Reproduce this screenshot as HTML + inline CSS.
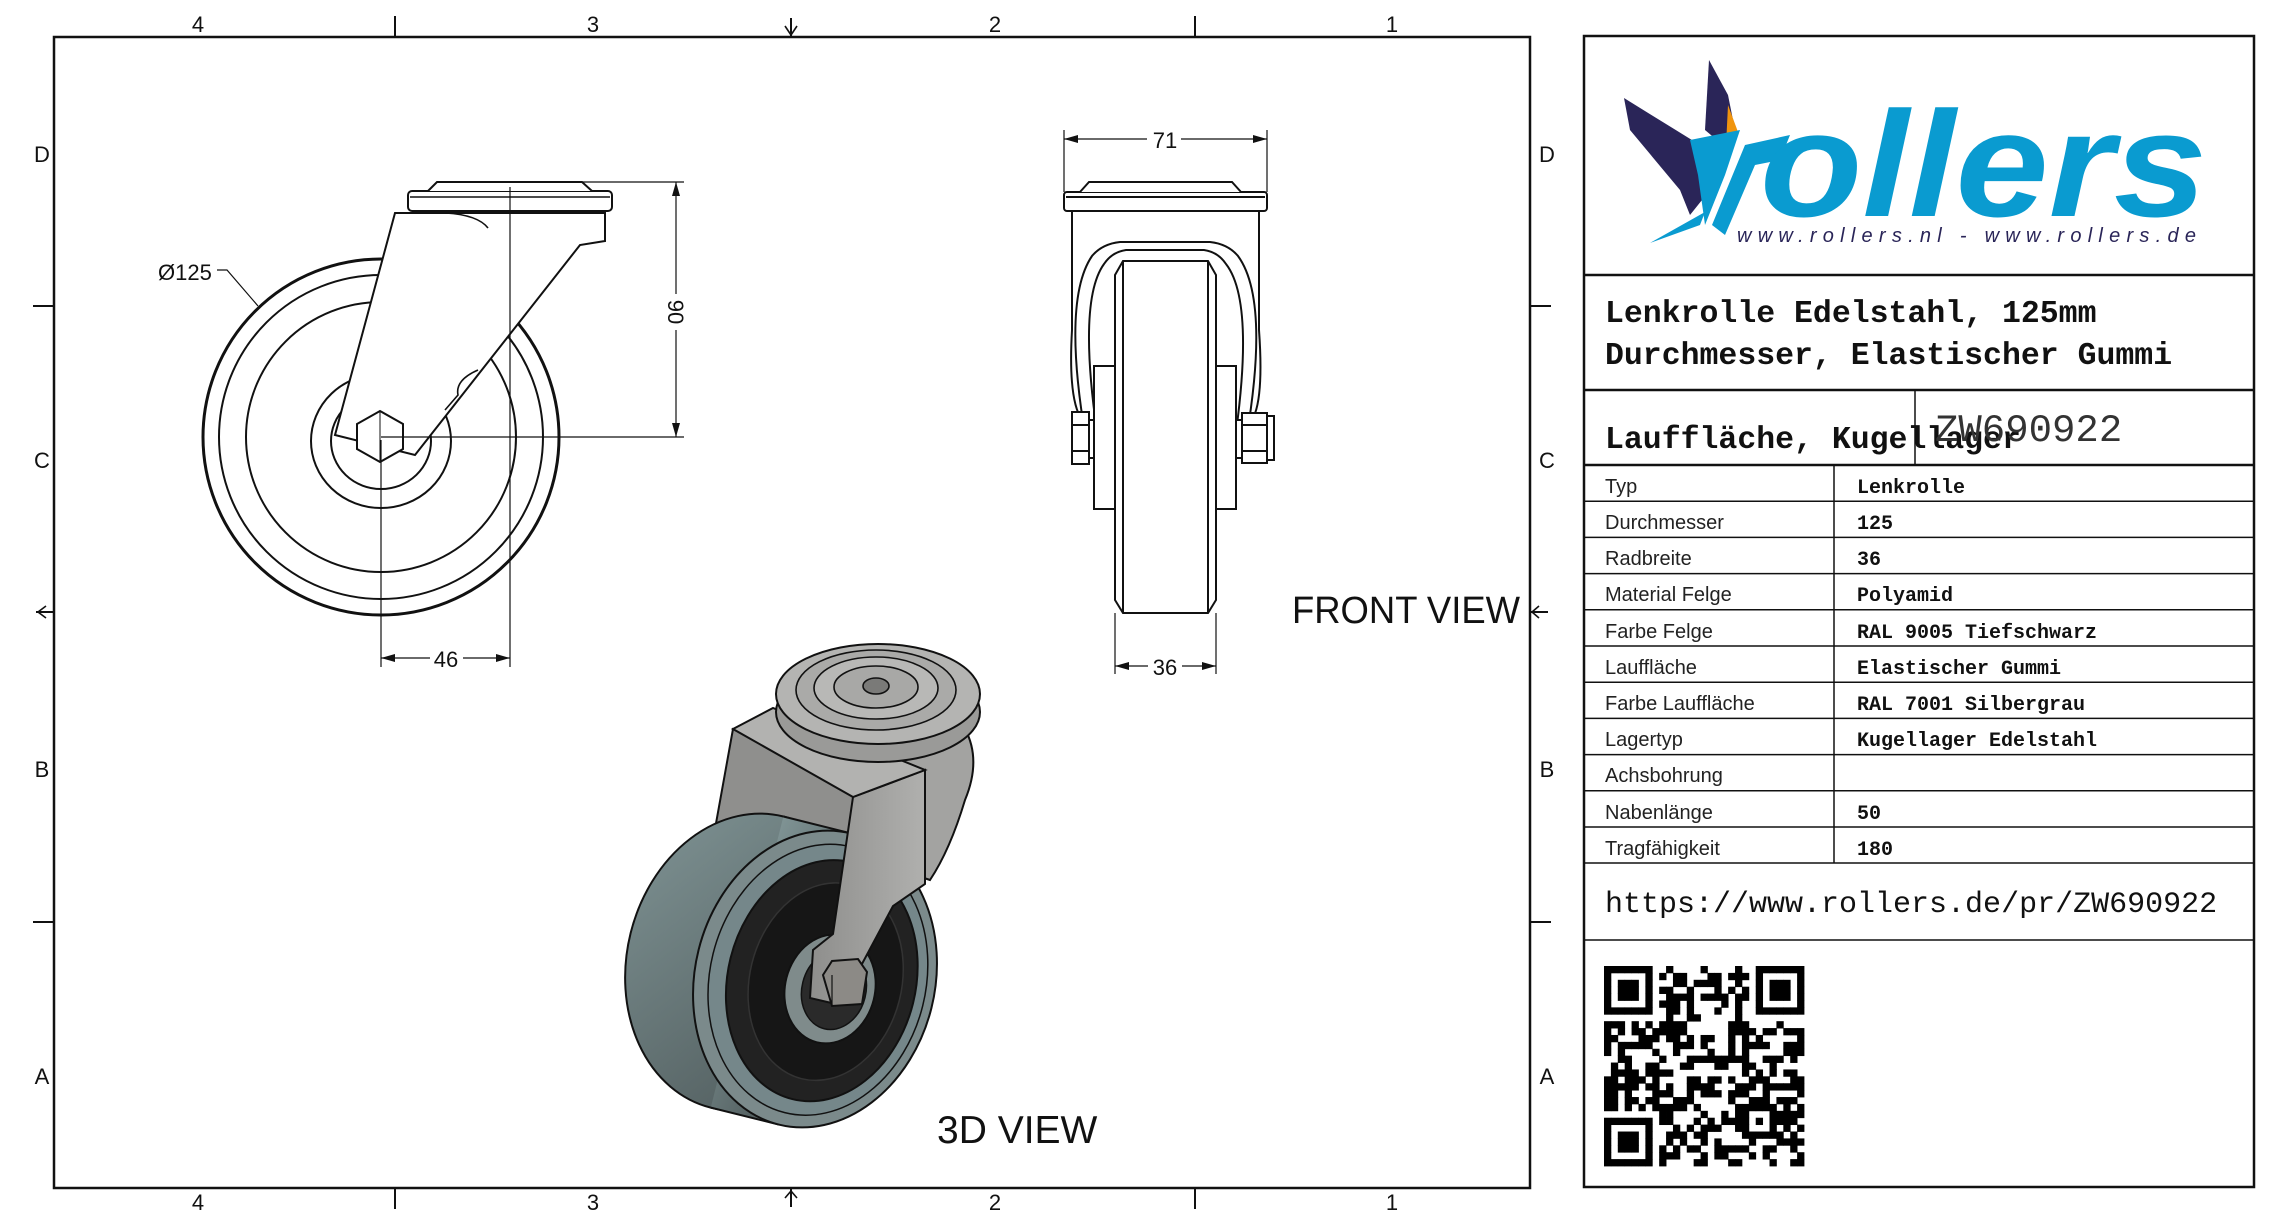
<!DOCTYPE html>
<html><head><meta charset="utf-8"><style>
html,body{margin:0;padding:0;background:#fff;}
svg{display:block;}
.mono{font-family:"Liberation Mono",monospace;}
.sans{font-family:"Liberation Sans",sans-serif;}
</style></head><body>
<svg id="s" width="2284" height="1224" viewBox="0 0 2284 1224" xmlns="http://www.w3.org/2000/svg">
<rect width="2284" height="1224" fill="#fff"/>
<rect x="54" y="37" width="1476" height="1151" fill="none" stroke="#111" stroke-width="2.5"/>
<g stroke="#111" stroke-width="2">
<line x1="395" y1="16" x2="395" y2="37"/><line x1="1195" y1="16" x2="1195" y2="37"/>
<line x1="395" y1="1188" x2="395" y2="1209"/><line x1="1195" y1="1188" x2="1195" y2="1209"/>
<line x1="33" y1="306" x2="54" y2="306"/><line x1="33" y1="922" x2="54" y2="922"/>
<line x1="1530" y1="306" x2="1551" y2="306"/><line x1="1530" y1="922" x2="1551" y2="922"/>
<line x1="791" y1="18" x2="791" y2="37"/><line x1="791" y1="1188" x2="791" y2="1207"/>
<line x1="36" y1="612" x2="54" y2="612"/><line x1="1530" y1="612" x2="1548" y2="612"/>
</g>
<g fill="none" stroke="#111" stroke-width="1.6">
<path d="M785 26 L791 35 L797 26"/><path d="M785 1198 L791 1191 L797 1198"/>
<path d="M46 606 L38 612 L46 618"/><path d="M1539 606 L1532 612 L1539 618"/>
</g>
<g class="sans" font-size="22" fill="#111" text-anchor="middle">
<text x="198" y="32">4</text><text x="593" y="32">3</text><text x="995" y="32">2</text><text x="1392" y="32">1</text>
<text x="198" y="1210">4</text><text x="593" y="1210">3</text><text x="995" y="1210">2</text><text x="1392" y="1210">1</text>
<text x="42" y="162">D</text><text x="42" y="468">C</text><text x="42" y="777">B</text><text x="42" y="1084">A</text>
<text x="1547" y="162">D</text><text x="1547" y="468">C</text><text x="1547" y="777">B</text><text x="1547" y="1084">A</text>
</g>

<!-- SIDE VIEW -->
<g fill="none" stroke="#111" stroke-width="2">
<circle cx="381" cy="437" r="178" stroke-width="3"/>
<circle cx="381" cy="437" r="162"/>
<circle cx="381" cy="437" r="135"/>
<ellipse cx="381" cy="441" rx="70" ry="67"/>
<ellipse cx="381" cy="441" rx="50" ry="48"/>
</g>
<path d="M395 213 L605 213 L605 241 L580 245 L415 455 L335 435 Z" fill="#fff" stroke="#111" stroke-width="2"/>
<path d="M446 213 Q478 215 488 228" fill="none" stroke="#111" stroke-width="1.6"/>
<path d="M478 370 Q455 380 458 395 L445 410" fill="none" stroke="#111" stroke-width="1.6"/>
<polygon points="357,424 380,411 403,424 403,449 380,462 357,449" fill="#fff" stroke="#111" stroke-width="2"/>
<line x1="380" y1="411" x2="380" y2="462" stroke="#111" stroke-width="1"/>
<rect x="408" y="191" width="204" height="20" rx="4" fill="#fff" stroke="#111" stroke-width="2"/>
<line x1="410" y1="197" x2="610" y2="197" stroke="#111" stroke-width="1.4"/>
<path d="M428 191 L437 182 L582 182 L592 191" fill="#fff" stroke="#111" stroke-width="2"/>
<g stroke="#111" stroke-width="1.2" fill="none">
<line x1="510" y1="187" x2="510" y2="667"/>
<line x1="381" y1="440" x2="381" y2="667"/>
<line x1="381" y1="437" x2="684" y2="437"/>
<line x1="582" y1="182" x2="684" y2="182"/>
<line x1="676" y1="182" x2="676" y2="437"/>
<line x1="381" y1="658" x2="430" y2="658"/><line x1="463" y1="658" x2="510" y2="658"/>
<path d="M217 270 L227 270 L258 306"/>
</g>
<g fill="#111">
<path d="M676 182 L672 196 L680 196 Z"/><path d="M676 437 L672 423 L680 423 Z"/>
<path d="M381 658 L395 654 L395 662 Z"/><path d="M510 658 L496 654 L496 662 Z"/>
</g>
<rect x="664" y="294" width="24" height="36" fill="#fff"/>
<text class="sans" font-size="22" fill="#111" transform="translate(668,312) rotate(90)" text-anchor="middle">90</text>
<text class="sans" font-size="22" fill="#111" x="446" y="667" text-anchor="middle">46</text>
<text class="sans" font-size="22" fill="#111" x="158" y="280">Ø125</text>

<!-- FRONT VIEW -->
<g fill="#fff" stroke="#111" stroke-width="2">
<path d="M1072 211 L1072 330 Q1068 400 1082 420 L1094 440 L1094 366 L1236 366 L1236 440 L1252 420 Q1264 400 1259 330 L1259 211"/>
<path d="M1086 440 Q1062 300 1092 256 Q1102 244 1120 242 L1210 242 Q1228 244 1238 256 Q1270 300 1246 440"/>
<path d="M1097 432 Q1078 300 1104 264 Q1112 252 1126 250 L1204 250 Q1218 252 1226 264 Q1254 300 1236 432"/>
<rect x="1094" y="366" width="142" height="143"/>
<path d="M1115 275 L1123 261 L1208 261 L1216 275 L1216 600 L1208 613 L1123 613 L1115 600 Z"/>
<line x1="1123" y1="261" x2="1123" y2="613"/><line x1="1208" y1="261" x2="1208" y2="613"/>
<rect x="1072" y="412" width="17" height="52"/>
<line x1="1072" y1="425" x2="1089" y2="425"/><line x1="1072" y1="451" x2="1089" y2="451"/>
<rect x="1089" y="420" width="5" height="38"/>
<rect x="1236" y="420" width="6" height="38"/>
<rect x="1242" y="413" width="25" height="50"/>
<rect x="1267" y="416" width="7" height="44"/>
<line x1="1242" y1="425" x2="1267" y2="425"/><line x1="1242" y1="451" x2="1267" y2="451"/>
<rect x="1064" y="192" width="203" height="19" rx="3"/>
<line x1="1066" y1="197" x2="1265" y2="197"/>
<path d="M1080 192 L1089 182 L1232 182 L1241 192"/>
</g>
<g stroke="#111" stroke-width="1.2" fill="none">
<line x1="1064" y1="130" x2="1064" y2="192"/><line x1="1267" y1="130" x2="1267" y2="192"/>
<line x1="1064" y1="139" x2="1147" y2="139"/><line x1="1181" y1="139" x2="1267" y2="139"/>
<line x1="1115" y1="613" x2="1115" y2="674"/><line x1="1216" y1="613" x2="1216" y2="674"/>
<line x1="1115" y1="666" x2="1148" y2="666"/><line x1="1182" y1="666" x2="1216" y2="666"/>
</g>
<g fill="#111">
<path d="M1064 139 L1078 135 L1078 143 Z"/><path d="M1267 139 L1253 135 L1253 143 Z"/>
<path d="M1115 666 L1129 662 L1129 670 Z"/><path d="M1216 666 L1202 662 L1202 670 Z"/>
</g>
<text class="sans" font-size="22" fill="#111" x="1165" y="148" text-anchor="middle">71</text>
<text class="sans" font-size="22" fill="#111" x="1165" y="675" text-anchor="middle">36</text>
<text class="sans" font-size="38" fill="#111" x="1292" y="623" textLength="228" lengthAdjust="spacingAndGlyphs">FRONT VIEW</text>

<!-- 3D VIEW -->
<defs>
<linearGradient id="tr" x1="0" y1="0" x2="1" y2="1"><stop offset="0" stop-color="#7f9394"/><stop offset="1" stop-color="#4b5657"/></linearGradient>
<linearGradient id="mt" x1="0" y1="0" x2="1" y2="0"><stop offset="0" stop-color="#8e8e8c"/><stop offset="1" stop-color="#b0b0ae"/></linearGradient>
</defs>
<polygon points="733,729 860,760 850,860 713,840" fill="#8f8f8d" stroke="#111" stroke-width="2"/>
<path d="M940 700 Q990 740 965 800 Q950 850 930 880 L900 870 L905 720 Z" fill="#a3a3a1" stroke="#111" stroke-width="2"/>
<g transform="rotate(14 815 979)">
<ellipse cx="745" cy="979" rx="120" ry="150" fill="url(#tr)" stroke="#111" stroke-width="2"/>
<rect x="745" y="829" width="70" height="300" fill="url(#tr)"/>
<line x1="745" y1="829" x2="815" y2="829" stroke="#111" stroke-width="2"/>
<line x1="745" y1="1129" x2="815" y2="1129" stroke="#111" stroke-width="2"/>
<ellipse cx="815" cy="979" rx="120" ry="150" fill="#7b8a8b" stroke="#111" stroke-width="2"/>
<ellipse cx="818" cy="979" rx="108" ry="137" fill="#75878a" stroke="#111" stroke-width="1.5"/>
<ellipse cx="822" cy="979" rx="94" ry="122" fill="#222" stroke="#111" stroke-width="2"/>
<ellipse cx="826" cy="979" rx="76" ry="100" fill="#161616" stroke="#333" stroke-width="1.5"/>
<ellipse cx="832" cy="985" rx="45" ry="55" fill="#7f8b8b" stroke="#111" stroke-width="2"/>
<ellipse cx="836" cy="985" rx="32" ry="40" fill="#2a2a2a" stroke="#111" stroke-width="1.5"/>
</g>
<polygon points="853,797 925,770 925,884 893,906 840,1005 810,998 813,950 833,934" fill="url(#mt)" stroke="#111" stroke-width="2"/>
<polygon points="733,729 773,708 925,770 853,797" fill="#b2b2b0" stroke="#111" stroke-width="2"/>
<polygon points="823,975 832,961 858,959 867,972 862,1004 832,1006" fill="#8c8a86" stroke="#111" stroke-width="2"/>
<line x1="832" y1="975" x2="832" y2="1006" stroke="#111" stroke-width="1.2"/>
<ellipse cx="878" cy="712" rx="102" ry="50" fill="#9a9a98" stroke="#111" stroke-width="2"/>
<ellipse cx="878" cy="694" rx="102" ry="50" fill="#b4b4b2" stroke="#111" stroke-width="2"/>
<ellipse cx="876" cy="690" rx="80" ry="40" fill="#aaaaa8" stroke="#111" stroke-width="1.6"/>
<ellipse cx="876" cy="688" rx="62" ry="31" fill="#b8b8b6" stroke="#111" stroke-width="1.6"/>
<ellipse cx="876" cy="687" rx="42" ry="21" fill="#a8a8a6" stroke="#111" stroke-width="1.6"/>
<ellipse cx="876" cy="686" rx="13" ry="8" fill="#7a7a78" stroke="#111" stroke-width="1.6"/>
<text class="sans" font-size="39" fill="#111" x="937" y="1143">3D VIEW</text>

<!-- TITLE BLOCK -->
<g fill="none" stroke="#111">
<rect x="1584" y="36" width="670" height="1151" stroke-width="2.5"/>
<line x1="1584" y1="275" x2="2254" y2="275" stroke-width="2.5"/>
<line x1="1584" y1="390" x2="2254" y2="390" stroke-width="2.5"/>
<line x1="1584" y1="465" x2="2254" y2="465" stroke-width="2.5"/>
<line x1="1915" y1="390" x2="1915" y2="465" stroke-width="1.5"/>
<line x1="1834" y1="465" x2="1834" y2="863" stroke-width="1.5"/>
<line x1="1584" y1="940" x2="2254" y2="940" stroke-width="1.5"/>
</g>
<g id="rows" stroke="#111" stroke-width="1.5"></g>
<polygon points="1624,98 1700,145 1702,200 1690,215 1680,190 1630,130" fill="#2a2558"/>
<polygon points="1709,60 1728,95 1736,135 1724,146 1705,130" fill="#2a2558"/>
<polygon points="1728,105 1738,132 1726,146" fill="#f0940e"/>
<polygon points="1690,140 1740,130 1725,175 1705,225 1698,175" fill="#0a9bd0"/>
<polygon points="1712,225 1745,145 1790,135 1780,160 1755,165 1725,235" fill="#0a9bd0"/>
<polygon points="1650,243 1705,212 1700,225" fill="#0a9bd0"/>
<text x="1760" y="216" font-family="Liberation Sans,sans-serif" font-weight="bold" font-style="italic" font-size="150" fill="#0a9bd0" textLength="447" lengthAdjust="spacingAndGlyphs">ollers</text>
<text x="1737" y="242" font-family="Liberation Sans,sans-serif" font-style="italic" font-size="20" fill="#2a2558" textLength="462" lengthAdjust="spacing" letter-spacing="3">www.rollers.nl  -  www.rollers.de</text>
<g class="mono" font-weight="bold" font-size="31.5" fill="#111">
<text x="1605" y="322">Lenkrolle Edelstahl, 125mm</text>
<text x="1605" y="364">Durchmesser, Elastischer Gummi</text>
<text x="1605" y="448">Lauffläche, Kugellager</text>
</g>
<text class="mono" font-size="39" fill="#333" x="1935" y="441">ZW690922</text>
<g class="sans" font-size="20" fill="#222">
<text x="1605" y="493">Typ</text><text x="1605" y="529">Durchmesser</text><text x="1605" y="565">Radbreite</text>
<text x="1605" y="601">Material Felge</text><text x="1605" y="638">Farbe Felge</text><text x="1605" y="674">Lauffläche</text>
<text x="1605" y="710">Farbe Lauffläche</text><text x="1605" y="746">Lagertyp</text><text x="1605" y="782">Achsbohrung</text>
<text x="1605" y="819">Nabenlänge</text><text x="1605" y="855">Tragfähigkeit</text>
</g>
<g class="mono" font-weight="bold" font-size="20" fill="#111">
<text x="1857" y="493">Lenkrolle</text><text x="1857" y="529">125</text><text x="1857" y="565">36</text>
<text x="1857" y="601">Polyamid</text><text x="1857" y="638">RAL 9005 Tiefschwarz</text><text x="1857" y="674">Elastischer Gummi</text>
<text x="1857" y="710">RAL 7001 Silbergrau</text><text x="1857" y="746">Kugellager Edelstahl</text>
<text x="1857" y="819">50</text><text x="1857" y="855">180</text>
</g>
<text class="mono" font-size="30" fill="#111" x="1605" y="912">https://www.rollers.de/pr/ZW690922</text>
<g id="qr" fill="#000"></g>
</svg>
<script>
var NS="http://www.w3.org/2000/svg";
var rows=document.getElementById("rows");
for(var i=1;i<=10;i++){var y=465+i*36.2;var l=document.createElementNS(NS,"line");
l.setAttribute("x1",1584);l.setAttribute("x2",2254);l.setAttribute("y1",y);l.setAttribute("y2",y);rows.appendChild(l);}
var l2=document.createElementNS(NS,"line");l2.setAttribute("x1",1584);l2.setAttribute("x2",2254);l2.setAttribute("y1",863);l2.setAttribute("y2",863);rows.appendChild(l2);
var qr=document.getElementById("qr"),N=29,c=200/N,x0=1604,y0=966,seed=12345;
function rnd(){seed=(seed*1103515245+12345)&0x7fffffff;return seed/0x7fffffff;}
function fin(r,cc,R,C){var dr=R-r,dc=C-cc;if(dr<0||dc<0||dr>6||dc>6)return -1;
if(dr==0||dr==6||dc==0||dc==6)return 1;if(dr>=2&&dr<=4&&dc>=2&&dc<=4)return 1;return 0;}
for(var r=0;r<N;r++)for(var k=0;k<N;k++){var v=-1;
[[0,0],[0,N-7],[N-7,0]].forEach(function(p){var f=fin(p[0],p[1],r,k);if(f>=0)v=f;});
if(v<0){if((r==7&&k<8)||(k==7&&r<8)||(r==7&&k>=N-8)||(k==N-8&&r<8)||(r==N-8&&k<8)||(k==7&&r>=N-8))v=0;}
if(v<0){if(r>=20&&r<=24&&k>=20&&k<=24){var dr=Math.max(Math.abs(r-22),Math.abs(k-22));v=(dr==1)?0:1;}}
if(v<0)v=rnd()<0.5?1:0;
if(v){var e=document.createElementNS(NS,"rect");e.setAttribute("x",x0+k*c);e.setAttribute("y",y0+r*c);
e.setAttribute("width",c+0.4);e.setAttribute("height",c+0.4);qr.appendChild(e);}}
</script>
</body></html>
